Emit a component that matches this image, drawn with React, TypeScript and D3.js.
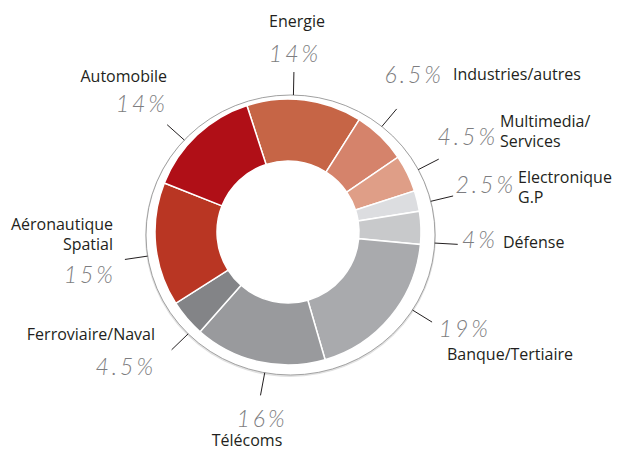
import React from "react";
import * as d3 from "d3";

// sectors, clockwise from the top
const sectors = [
  "Energie",
  "Industries/autres",
  "Multimedia/Services",
  "Electronique G.P",
  "Défense",
  "Banque/Tertiaire",
  "Télécoms",
  "Ferroviaire/Naval",
  "Aéronautique Spatial",
  "Automobile",
];
const shares = [14, 6.5, 4.5, 2.5, 4, 19, 16, 4.5, 15, 14];
const shareLabels = ["14%", "6.5%", "4.5%", "2.5%", "4%", "19%", "16%", "4.5%", "15%", "14%"];
const colors = [
  "#c66546",
  "#d5836b",
  "#df9e87",
  "#dcdde0",
  "#c8c9cb",
  "#a9aaad",
  "#999a9d",
  "#838487",
  "#b93623",
  "#b00f17",
];

// label layout: name lines, name anchor, pct anchor, leader nudge (deg)
type Lay = {
  name: string[];
  nx: number;
  ny: number;
  na: "start" | "middle" | "end";
  px: number;
  py: number;
  pa: "start" | "middle" | "end";
  nudge: number;
};
const layout: Lay[] = [
  { name: ["Energie"], nx: 297, ny: 27, na: "middle", px: 295, py: 62, pa: "middle", nudge: -6 },
  { name: ["Industries/autres"], nx: 453, ny: 80, na: "start", px: 444, py: 83, pa: "end", nudge: -4 },
  { name: ["Multimedia/", "Services"], nx: 500, ny: 127, na: "start", px: 498, py: 145, pa: "end", nudge: -1 },
  { name: ["Electronique", "G.P"], nx: 518, ny: 183, na: "start", px: 516, py: 193, pa: "end", nudge: 0 },
  { name: ["Défense"], nx: 503, ny: 248, na: "start", px: 498, py: 248, pa: "end", nudge: 5 },
  { name: ["Banque/Tertiaire"], nx: 447, ny: 360, na: "start", px: 491, py: 337, pa: "end", nudge: -8 },
  { name: ["Télécoms"], nx: 247, ny: 446, na: "middle", px: 262, py: 427, pa: "middle", nudge: -2 },
  { name: ["Ferroviaire/Naval"], nx: 155, ny: 340, na: "end", px: 156, py: 375, pa: "end", nudge: -3.5 },
  { name: ["Aéronautique", "Spatial"], nx: 113, ny: 230, na: "end", px: 116, py: 283, pa: "end", nudge: -3 },
  { name: ["Automobile"], nx: 167, ny: 82, na: "end", px: 168, py: 112, pa: "end", nudge: -5 },
];

const W = 619;
const H = 455;
const cx = 288;
const cy = 232;
const rOuter = 133;
const rInner = 71;

export default function App() {
  const start = (-18 * Math.PI) / 180;
  const pie = d3
    .pie<number>()
    .sort(null)
    .value((d) => d)
    .startAngle(start)
    .endAngle(start + 2 * Math.PI);
  const arcs = pie(shares);
  const arcPath = d3.arc<d3.PieArcDatum<number>>().innerRadius(rInner).outerRadius(rOuter);

  // ring around the donut (slightly off-centre, like the original)
  const ex = 290.5;
  const ey = 235;
  const erx = 144.5;
  const ery = 140;

  return (
    <svg width={W} height={H} style={{ position: "absolute", left: 0, top: 0 }}>
      <rect width={W} height={H} fill="#fff" />
      <ellipse cx={ex} cy={ey + 1} rx={erx} ry={ery} fill="none" stroke="#e2e2e2" strokeWidth={2} />
      <ellipse cx={ex} cy={ey} rx={erx} ry={ery} fill="#fff" stroke="#8c8c8c" strokeWidth={0.8} />
      <g transform={`translate(${cx},${cy})`}>
        {arcs.map((a, i) => (
          <path key={sectors[i]} d={arcPath(a) || ""} fill={colors[i]} stroke="#fff" strokeWidth={1.5} />
        ))}
      </g>
      {arcs.map((a, i) => {
        const ang = (a.startAngle + a.endAngle) / 2 + (layout[i].nudge * Math.PI) / 180;
        const s = Math.sin(ang);
        const c = -Math.cos(ang);
        // point on the ellipse
        const t = 1 / Math.sqrt((s * s) / (erx * erx) + (c * c) / (ery * ery));
        const x1 = ex + s * t;
        const y1 = ey + c * t;
        const x2 = ex + s * (t + 23);
        const y2 = ey + c * (t + 23);
        return <line key={"l" + i} x1={x1} y1={y1} x2={x2} y2={y2} stroke="#231f20" strokeWidth={1} />;
      })}
      {layout.map((l, i) => (
        <g key={"t" + i}>
          <text
            x={l.nx}
            y={l.ny}
            textAnchor={l.na}
            fontFamily="'Open Sans', 'Noto Sans', sans-serif"
            fontSize={16}
            fill="#231f20"
          >
            {l.name.map((ln, j) => (
              <tspan key={j} x={l.nx} dy={j === 0 ? 0 : 20}>
                {ln}
              </tspan>
            ))}
          </text>
          <text
            x={l.px}
            y={l.py}
            textAnchor={l.pa}
            fontFamily="Lato, 'Open Sans', sans-serif"
            fontWeight={300}
            fontStyle="italic"
            fontSize={23}
            letterSpacing={3}
            fill="#7d7d80"
          >
            {shareLabels[i]}
          </text>
        </g>
      ))}
    </svg>
  );
}
